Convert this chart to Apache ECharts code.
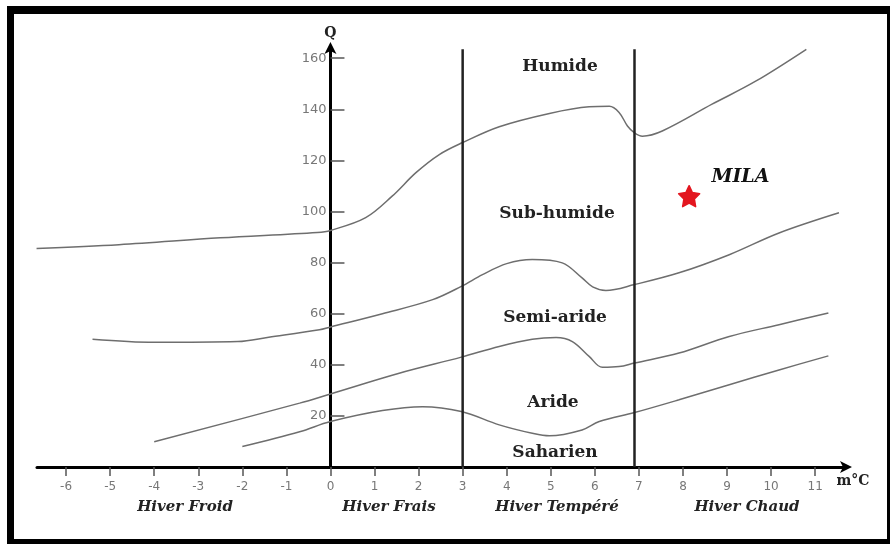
<!DOCTYPE html>
<html>
<head>
<meta charset="utf-8">
<script src="https://cdn.jsdelivr.net/npm/echarts@6/dist/echarts.min.js"></script>
<style>
html,body{margin:0;padding:0;background:#fff;}
#chart{width:890px;height:544px;}
</style>
</head>
<body>
<div id="chart"></div>
<script>
// ---- Data ----
const xTicks = [-6,-5,-4,-3,-2,-1,0,1,2,3,4,5,6,7,8,9,10,11];
const yTicks = [20,40,60,80,100,120,140,160];

// Boundary Humide / Sub-humide
const humideLimit = [[-6.67,85.5],[-4.8,87],[-2.5,89.7],[-0.3,91.8],[0,92.6],[0.8,97.6],[1.4,106],[1.94,115.2],[2.47,122.3],[3,127],[3.83,133.2],[4.97,138.4],[5.87,141],[6.33,141.2],[6.55,138.8],[6.74,133.5],[6.9,130.8],[7.08,129.5],[7.53,131.5],[8.66,142],[9.65,151],[10.8,163.5]];
// Boundary Sub-humide / Semi-aride
const subhumideLimit = [[-5.4,50],[-4,48.8],[-2.1,49.1],[-1.4,50.8],[-0.25,53.7],[0,54.8],[1.18,60],[2.32,65.5],[2.97,70.7],[3.45,75.3],[4,79.6],[4.58,81.2],[5.26,79.9],[5.71,74],[5.95,70.5],[6.25,69.1],[6.9,71.4],[7.91,76],[9.05,83.1],[10.18,91.6],[11.54,99.5]];
// Boundary Semi-aride / Aride
const semiarideLimit = [[-4,9.9],[-0.7,25],[0,28.6],[1.56,36.7],[2.97,43],[3.83,47.2],[4.58,50],[5.12,50.7],[5.49,49.1],[5.87,43.3],[6.17,39],[6.55,39.3],[6.9,40.7],[7.91,44.6],[9.05,51.1],[10.18,55.7],[11.3,60.3]];
// Boundary Aride / Saharien
const arideLimit = [[-2,8],[-0.7,13.8],[0,17.8],[1.18,22.1],[2.09,23.6],[2.97,21.7],[3.83,16.5],[4.58,13.2],[4.97,12.2],[5.71,14.5],[6.1,17.8],[6.9,21.3],[7.91,26.3],[9.05,32.2],[10.18,38],[11.3,43.5]];

// Winter-type separators (m in °C)
const winterLimits = [3, 6.9];
const winterLimitTop = 163.5;

// Station
const stationName = 'MILA';
const stationM = 8.14;
const stationQ = 106;

// Bioclimatic stage names
const stageNames = ['Humide','Sub-humide','Semi-aride','Aride','Saharien'];
const winterNames = ['Hiver Froid','Hiver Frais','Hiver Tempéré','Hiver Chaud'];

// ---- Chart ----
const X_MIN = -6.66, X_MAX = 11.7;
const GRID_LEFT = 37, GRID_RIGHT = 44, W = 890;
const pxPerUnit = (W - GRID_LEFT - GRID_RIGHT) / (X_MAX - X_MIN);
const yAxisOffset = -(0 - X_MIN) * pxPerUnit; // move y axis to m = 0

const chart = echarts.init(document.getElementById('chart'));
const curveStyle = {color:'#6e6e6e', width:1.5};
const starPath = 'path://M0,-10L2.94,-4.05L9.51,-3.09L4.76,1.55L5.88,8.09L0,5L-5.88,8.09L-4.76,1.55L-9.51,-3.09L-2.94,-4.05Z';

function curve(data){
  return {type:'line', data:data, smooth:0.35, symbol:'none', lineStyle:curveStyle, silent:true, z:3};
}

const stageLabelStyle = {fontFamily:'DejaVu Serif', fontWeight:'bold', fontSize:17, fill:'#222'};
const winterLabelStyle = {fontFamily:'DejaVu Serif', fontWeight:'bold', fontStyle:'italic', fontSize:15, fill:'#222'};

const option = {
  backgroundColor:'#fff',
  animation:false,
  grid:{left:GRID_LEFT, right:GRID_RIGHT, top:48, bottom:77, containLabel:false},
  xAxis:{
    type:'value', min:X_MIN, max:X_MAX,
    splitLine:{show:false},
    axisLine:{show:true, onZero:false, lineStyle:{color:'#000', width:3}, symbol:['none','arrow'], symbolSize:[9,12], symbolOffset:[0,6]},
    axisTick:{show:true, length:9, lineStyle:{color:'#555', width:1.5}, customValues:xTicks},
    axisLabel:{show:true, customValues:xTicks, margin:14, color:'#777', fontFamily:'DejaVu Sans', fontSize:12}
  },
  yAxis:{
    type:'value', min:0, max:164, position:'left', offset:yAxisOffset,
    name:'Q', nameLocation:'end', nameGap:8,
    nameTextStyle:{fontFamily:'DejaVu Serif', fontWeight:'bold', fontSize:14, color:'#222', align:'center'},
    splitLine:{show:false},
    axisLine:{show:true, onZero:false, lineStyle:{color:'#000', width:3}, symbol:['none','arrow'], symbolSize:[9,12], symbolOffset:[0,6]},
    axisTick:{show:true, inside:true, length:14, lineStyle:{color:'#555', width:1.5}, customValues:yTicks},
    axisLabel:{show:true, customValues:yTicks, margin:4, color:'#777', fontFamily:'DejaVu Sans', fontSize:13}
  },
  series:[
    curve(humideLimit),
    curve(subhumideLimit),
    curve(semiarideLimit),
    curve(arideLimit),
    {type:'line', symbol:'none', silent:true, z:4, lineStyle:{color:'#222', width:2.5},
     data:[[winterLimits[0],0],[winterLimits[0],winterLimitTop]]},
    {type:'line', symbol:'none', silent:true, z:4, lineStyle:{color:'#222', width:2.5},
     data:[[winterLimits[1],0],[winterLimits[1],winterLimitTop]]},
    {type:'scatter', z:6, symbol:starPath, symbolSize:21,
     itemStyle:{color:'#e3161f', opacity:1, borderColor:'#e3161f', borderWidth:1.5, borderJoin:'round'},
     data:[[stationM, stationQ]],
     label:{show:true, formatter:stationName, position:'right', offset:[6,-19], opacity:1,
            fontFamily:'DejaVu Serif', fontWeight:'bold', fontStyle:'italic', fontSize:19, color:'#111'}}
  ],
  graphic:[
    // frame
    {type:'rect', shape:{x:7, y:6, width:883, height:8}, style:{fill:'#000'}, silent:true},
    {type:'rect', shape:{x:7, y:6, width:7, height:538}, style:{fill:'#000'}, silent:true},
    {type:'rect', shape:{x:887, y:6, width:3, height:538}, style:{fill:'#000'}, silent:true},
    {type:'rect', shape:{x:7, y:539, width:883, height:5}, style:{fill:'#000'}, silent:true},
    // stage names
    {type:'text', x:560, y:67, style:Object.assign({text:stageNames[0], align:'center', verticalAlign:'middle'}, stageLabelStyle)},
    {type:'text', x:557, y:214, style:Object.assign({text:stageNames[1], align:'center', verticalAlign:'middle'}, stageLabelStyle)},
    {type:'text', x:555, y:318, style:Object.assign({text:stageNames[2], align:'center', verticalAlign:'middle'}, stageLabelStyle)},
    {type:'text', x:553, y:403, style:Object.assign({text:stageNames[3], align:'center', verticalAlign:'middle'}, stageLabelStyle)},
    {type:'text', x:555, y:453, style:Object.assign({text:stageNames[4], align:'center', verticalAlign:'middle'}, stageLabelStyle)},
    // winter names
    {type:'text', x:185, y:507, style:Object.assign({text:winterNames[0], align:'center', verticalAlign:'middle'}, winterLabelStyle)},
    {type:'text', x:389, y:507, style:Object.assign({text:winterNames[1], align:'center', verticalAlign:'middle'}, winterLabelStyle)},
    {type:'text', x:557, y:507, style:Object.assign({text:winterNames[2], align:'center', verticalAlign:'middle'}, winterLabelStyle)},
    {type:'text', x:747, y:507, style:Object.assign({text:winterNames[3], align:'center', verticalAlign:'middle'}, winterLabelStyle)},
    // x-axis unit
    {type:'text', x:853, y:481, style:{text:'m°C', align:'center', verticalAlign:'middle', fontFamily:'DejaVu Serif', fontWeight:'bold', fontSize:14, fill:'#222'}}
  ]
};
chart.setOption(option);
</script>
</body>
</html>
